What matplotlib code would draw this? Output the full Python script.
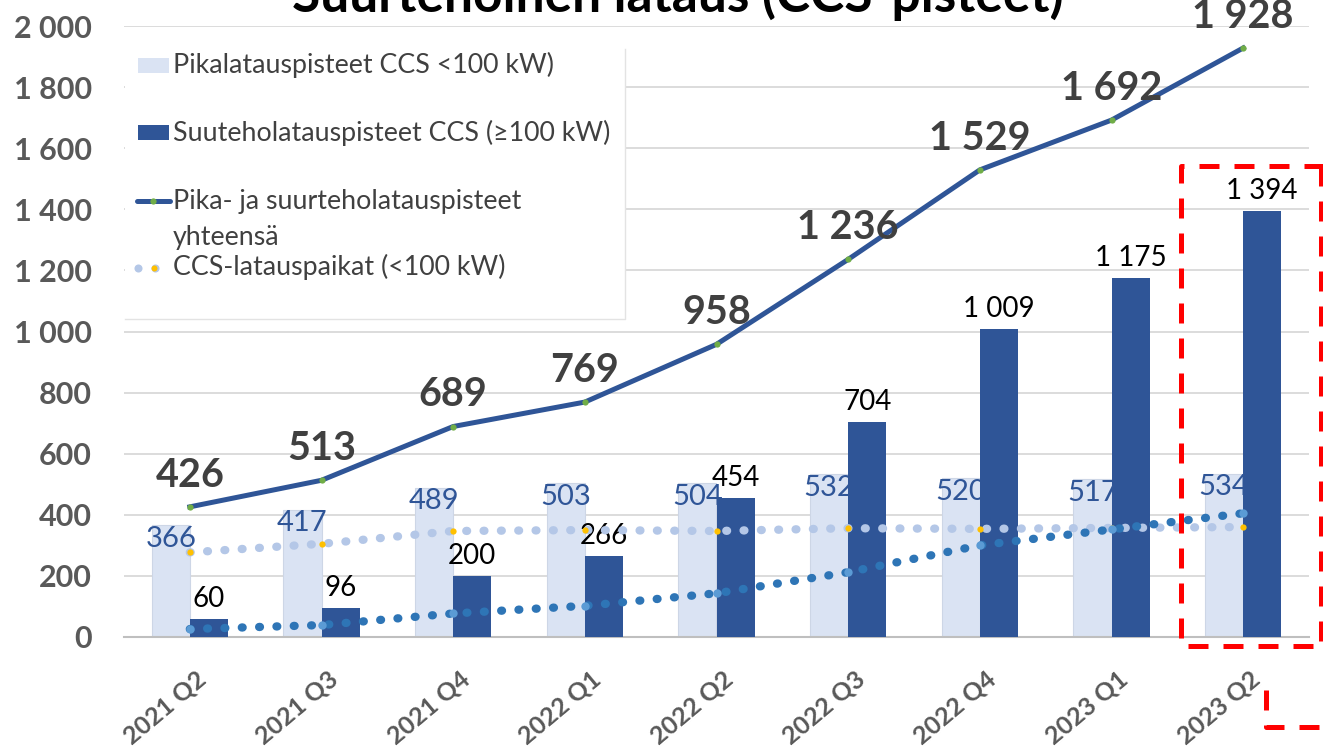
import matplotlib
matplotlib.use("Agg")
import matplotlib.pyplot as plt
import matplotlib.transforms as mtransforms
from matplotlib.patches import Rectangle
from matplotlib.lines import Line2D

plt.rcParams["font.family"] = ["Lato", "DejaVu Sans"]

# --- data -------------------------------------------------------------
quarters = ["2021 Q2", "2021 Q3", "2021 Q4", "2022 Q1", "2022 Q2",
            "2022 Q3", "2022 Q4", "2023 Q1", "2023 Q2"]
pika = [366, 417, 489, 503, 504, 532, 520, 517, 534]            # CCS <100 kW
suurteho = [60, 96, 200, 266, 454, 704, 1009, 1175, 1394]       # CCS >=100 kW
yhteensa = [426, 513, 689, 769, 958, 1236, 1529, 1692, 1928]    # total
paikat_pika = [277, 305, 347, 350, 347, 356, 354, 357, 360]     # locations <100 kW
paikat_suurteho = [26, 39, 77, 102, 143, 212, 300, 352, 405]    # locations >=100 kW
y_ticks = [0, 200, 400, 600, 800, 1000, 1200, 1400, 1600, 1800, 2000]

LIGHT = "#DAE3F3"
DARK = "#2F5597"
GRAY_TXT = "#595959"

W, H = 1323, 749


def fmt(v):
    return f"{v:,}".replace(",", " ")


fig = plt.figure(figsize=(W / 100, H / 100), dpi=100)
fig.patch.set_facecolor("white")
# axes placed in pixel terms of the reference
ax = fig.add_axes([124 / W, 1 - 637 / H, (1309 - 124) / W, (637 - 26) / H])

x = list(range(len(quarters)))
bw = 0.289

ax.bar([i - bw / 2 for i in x], pika, width=bw, color=LIGHT, edgecolor="#CDD6E6",
       linewidth=0.8, zorder=2)
for i, v in zip(x, pika):
    ax.annotate(str(v), (i - bw / 2, v), xytext=(0, -15.5), textcoords="offset points",
                ha="center", va="baseline", fontsize=21, color=DARK, zorder=2.5)

ax.bar([i + bw / 2 for i in x], suurteho, width=bw, color=DARK, zorder=3)
for i, v in zip(x, suurteho):
    ax.annotate(fmt(v), (i + bw / 2, v), xytext=(0, 8.5), textcoords="offset points",
                ha="center", va="baseline", fontsize=20, color="black", zorder=3.5)

# dotted series
ax.plot(x, paikat_pika, color="#B4C7E7", lw=6, linestyle=(0, (0.1, 1.98)),
        dash_capstyle="round", marker="o", markersize=4.5, markerfacecolor="#FFC000",
        markeredgewidth=0, zorder=4)
ax.plot(x, paikat_suurteho, color="#2E75B6", lw=6, linestyle=(0, (0.1, 1.98)),
        dash_capstyle="round", marker="o", markersize=6, markerfacecolor="#5B9BD5",
        markeredgewidth=0, zorder=4)

# total line
ax.plot(x, yhteensa, color=DARK, lw=3.6, marker="o", markersize=4.5,
        markerfacecolor="#70AD47", markeredgewidth=0, zorder=5)
for i, v in zip(x, yhteensa):
    ax.annotate(fmt(v), (i, v), xytext=(0, 14.5), textcoords="offset points",
                ha="center", va="baseline", fontsize=28.5, fontweight="bold",
                color="#404040", zorder=6, annotation_clip=False)

ax.set_xlim(-0.5, len(quarters) - 0.5)
ax.set_ylim(0, 2000)
ax.set_yticks(y_ticks)
ax.set_yticklabels([fmt(t) for t in y_ticks], fontsize=22, fontweight="bold", color=GRAY_TXT)
ax.set_xticks(x)
ax.set_xticklabels(quarters, rotation=40, ha="right", va="top", rotation_mode="anchor",
                   fontsize=18, fontweight="bold", color=GRAY_TXT)
ax.tick_params(axis="y", length=0, pad=23)
ax.tick_params(axis="x", length=0, pad=22)
shift = mtransforms.ScaledTranslation(6 / 100, 0, fig.dpi_scale_trans)
for lab in ax.get_xticklabels():
    lab.set_transform(lab.get_transform() + shift)
ax.grid(axis="y", color="#D9D9D9", linewidth=1.3, zorder=0)
ax.set_axisbelow(True)
for s in ["left", "right", "top"]:
    ax.spines[s].set_visible(False)
ax.spines["bottom"].set_color("#BFBFBF")
ax.spines["bottom"].set_linewidth(1.5)


# --- legend, drawn by hand in pixel positions ---------------------------
def fx(px):
    return px / W


def fy(py):
    return 1 - py / H


fig.patches.append(Rectangle((fx(125), fy(319)), fx(625) - fx(125), fy(49) - fy(319),
                             transform=fig.transFigure, facecolor="white",
                             edgecolor="none", zorder=1))
fig.lines.append(Line2D([fx(125), fx(625), fx(625)], [fy(319), fy(319), fy(49)],
                        transform=fig.transFigure, color="#E3E3E3", lw=1.0))
leg_kw = dict(fontsize=19.3, color="#404040", va="center", ha="left")
fig.patches.append(Rectangle((fx(138), fy(73)), fx(31), 15 / H, transform=fig.transFigure,
                             facecolor=LIGHT, edgecolor="none", zorder=2))
fig.text(fx(173), fy(65), "Pikalatauspisteet CCS <100 kW)", **leg_kw)
fig.patches.append(Rectangle((fx(138), fy(140)), fx(31), 15 / H, transform=fig.transFigure,
                             facecolor=DARK, edgecolor="none", zorder=2))
fig.text(fx(173), fy(133), "Suuteholatauspisteet CCS (≥100 kW)", **leg_kw)
fig.lines.append(Line2D([fx(137), fx(170)], [fy(201), fy(201)], transform=fig.transFigure,
                        color=DARK, lw=3.6, solid_capstyle="round"))
fig.lines.append(Line2D([fx(153)], [fy(201)], transform=fig.transFigure, marker="o",
                        markersize=4.5, markerfacecolor="#70AD47", markeredgewidth=0))
fig.text(fx(173), fy(201), "Pika- ja suurteholatauspisteet", **leg_kw)
fig.text(fx(173), fy(237), "yhteensä", **leg_kw)
fig.lines.append(Line2D([fx(138), fx(155)], [fy(268), fy(268)], transform=fig.transFigure,
                        lw=0, marker="o", markersize=5.8, markerfacecolor="#B4C7E7",
                        markeredgewidth=0))
fig.lines.append(Line2D([fx(154)], [fy(268)], transform=fig.transFigure, lw=0, marker="o",
                        markersize=4.3, markerfacecolor="#FFC000", markeredgewidth=0))
fig.text(fx(173), fy(267), "CCS-latauspaikat (<100 kW)", **leg_kw)

# title, partly cut by the top of the image
fig.text(fx(678), fy(12), "Suurtehoinen lataus (CCS-pisteet)", ha="center", va="baseline",
         fontsize=37, fontweight="bold", color="black")

# red dashed highlight boxes
red_kw = dict(transform=fig.transFigure, color="#FF0000", lw=3.6, linestyle=(0, (4, 3)))
fig.lines.append(Line2D([fx(1340), fx(1181), fx(1181), fx(1340)],
                        [fy(166), fy(166), fy(646), fy(646)], **red_kw))
fig.lines.append(Line2D([fx(1321), fx(1321)], [fy(166), fy(646)], **red_kw))
fig.lines.append(Line2D([fx(1266), fx(1266), fx(1340)], [fy(690), fy(727), fy(727)], **red_kw))

fig.savefig("out.png", dpi=100, facecolor="white")
